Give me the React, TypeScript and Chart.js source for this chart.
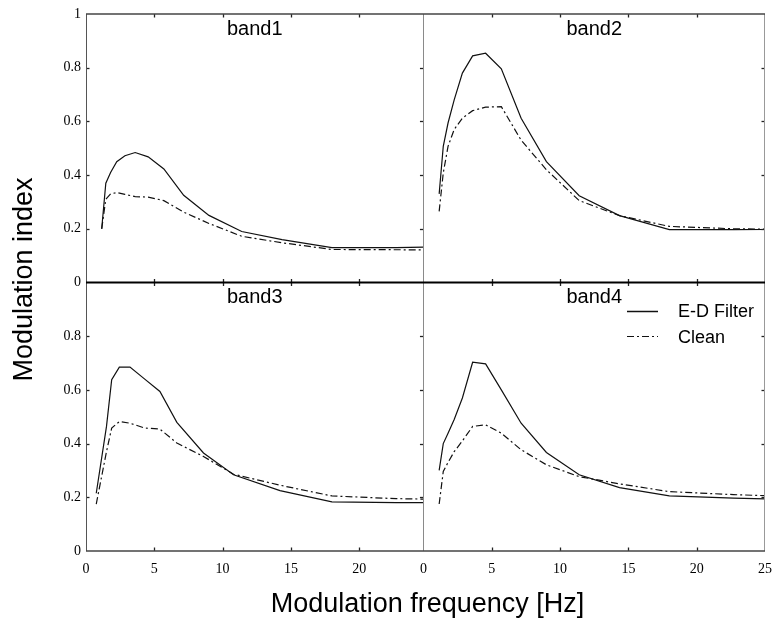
import React, { useEffect, useRef } from 'react';
import { Chart, registerables } from 'chart.js';

Chart.register(...registerables);

// Modulation frequencies (Hz) sampled in each band
const freqBands124 = [1.15, 1.45, 1.8, 2.25, 2.85, 3.6, 4.55, 5.7, 7.15, 9.0, 11.4, 14.35, 18.0, 22.7, 28.5];
const freqBand3 = [0.75, 1.5, 1.88, 2.44, 3.22, 4.3, 5.41, 6.65, 8.6, 10.8, 14.2, 18.0, 22.7, 28.5];

// Modulation index values
const band1ED = [0.2, 0.37, 0.41, 0.45, 0.472, 0.484, 0.468, 0.423, 0.325, 0.25, 0.19, 0.16, 0.13, 0.13, 0.135];
const band1Clean = [0.2, 0.31, 0.33, 0.335, 0.328, 0.32, 0.318, 0.305, 0.262, 0.22, 0.172, 0.148, 0.123, 0.122, 0.12];
const band2ED = [0.33, 0.507, 0.594, 0.68, 0.78, 0.844, 0.854, 0.796, 0.612, 0.45, 0.323, 0.249, 0.197, 0.197, 0.198];
const band2Clean = [0.265, 0.408, 0.507, 0.57, 0.612, 0.64, 0.653, 0.655, 0.53, 0.42, 0.305, 0.249, 0.209, 0.2, 0.197];
const band3ED = [0.215, 0.464, 0.638, 0.685, 0.685, 0.64, 0.594, 0.479, 0.365, 0.284, 0.225, 0.183, 0.18, 0.18];
const band3Clean = [0.175, 0.37, 0.458, 0.482, 0.476, 0.458, 0.454, 0.402, 0.352, 0.286, 0.245, 0.205, 0.195, 0.19];
const band4ED = [0.3, 0.4, 0.439, 0.49, 0.57, 0.703, 0.697, 0.6, 0.476, 0.367, 0.284, 0.236, 0.205, 0.197, 0.19];
const band4Clean = [0.175, 0.296, 0.33, 0.37, 0.41, 0.464, 0.47, 0.439, 0.377, 0.321, 0.277, 0.25, 0.221, 0.21, 0.2];

const xTickValues = [0, 5, 10, 15, 20, 25];
const yTickValues = [0, 0.2, 0.4, 0.6, 0.8, 1];
const panelTitles = ['band1', 'band2', 'band3', 'band4'];
const seriesLabels = ['E-D Filter', 'Clean'];
const yTitle = 'Modulation index';
const xTitle = 'Modulation frequency [Hz]';

const DASH_DOT = [7, 3, 2, 3];
const SANS = '"Liberation Sans", Arial, sans-serif';
const SERIF = '"Liberation Serif", "Times New Roman", serif';

function toPoints(xs: number[], ys: number[]) {
  return ys.map((y, i) => ({ x: xs[i], y }));
}

function makeSet(label: string, xs: number[], ys: number[], xAxisID: string, yAxisID: string, dashed: boolean) {
  return {
    label,
    data: toPoints(xs, ys),
    xAxisID,
    yAxisID,
    borderColor: '#111',
    backgroundColor: '#111',
    borderWidth: 1.2,
    borderDash: dashed ? DASH_DOT : [],
    pointRadius: 0,
    tension: 0,
    fill: false,
  };
}

const panelPlugin = {
  id: 'panelFrame',
  afterDraw(chart: any) {
    const ctx: CanvasRenderingContext2D = chart.ctx;
    const { xL, xR, yT, yB } = chart.scales;
    const L = xL.left;
    const M = xR.left;
    const R = xR.right;
    const T = yT.top;
    const Mid = yT.bottom;
    const B = yB.bottom;
    const line = (x1: number, y1: number, x2: number, y2: number) => {
      ctx.beginPath();
      ctx.moveTo(x1, y1);
      ctx.lineTo(x2, y2);
      ctx.stroke();
    };
    ctx.save();
    ctx.setLineDash([]);
    // inward tick marks
    const tk = 3.5;
    ctx.strokeStyle = '#222';
    ctx.lineWidth = 1.3;
    for (const xs of [xL, xR]) {
      for (const v of xTickValues) {
        if (v <= 0 || v >= xs.max) continue;
        const px = Math.round(xs.getPixelForValue(v)) + 0.5;
        line(px, T, px, T + tk);
        line(px, Mid - tk, px, Mid + tk);
        line(px, B - tk, px, B);
      }
    }
    for (const ys of [yT, yB]) {
      for (const v of yTickValues) {
        if (v <= 0 || v >= 1) continue;
        const py = Math.round(ys.getPixelForValue(v)) + 0.5;
        line(L, py, L + tk, py);
        line(M - tk, py, M, py);
        line(R - tk, py, R, py);
      }
    }
    // frame lines
    ctx.lineWidth = 1;
    ctx.strokeStyle = '#555';
    line(Math.round(L) + 0.5, T, Math.round(L) + 0.5, B);
    ctx.strokeStyle = '#8a8a8a';
    line(Math.round(M) + 0.5, T, Math.round(M) + 0.5, B);
    ctx.strokeStyle = '#999';
    line(Math.round(R) - 0.5, T, Math.round(R) - 0.5, B);
    ctx.strokeStyle = '#444';
    ctx.lineWidth = 1.5;
    line(L, T, R, T);
    line(L, B, R, B);
    ctx.strokeStyle = '#000';
    ctx.lineWidth = 2.2;
    line(L, Mid, R, Mid);

    // panel titles
    ctx.fillStyle = '#000';
    ctx.font = `20px ${SANS}`;
    ctx.textAlign = 'center';
    ctx.textBaseline = 'alphabetic';
    ctx.fillText(panelTitles[0], (L + M) / 2, T + 21);
    ctx.fillText(panelTitles[1], (M + R) / 2, T + 21);
    ctx.fillText(panelTitles[2], (L + M) / 2, Mid + 20);
    ctx.fillText(panelTitles[3], (M + R) / 2, Mid + 20);

    // legend in band4 panel
    const lx1 = R - 138;
    const lx2 = R - 107;
    const tx = R - 87;
    const ly = [Mid + 29, Mid + 54];
    ctx.strokeStyle = '#111';
    ctx.lineWidth = 1.5;
    ctx.setLineDash([]);
    line(lx1, ly[0], lx2, ly[0]);
    ctx.lineWidth = 1.2;
    ctx.setLineDash(DASH_DOT);
    line(lx1, ly[1], lx2, ly[1]);
    ctx.setLineDash([]);
    ctx.font = `18px ${SANS}`;
    ctx.textAlign = 'left';
    ctx.fillText(seriesLabels[0], tx, ly[0] + 5.5);
    ctx.fillText(seriesLabels[1], tx, ly[1] + 6.5);

    // axis titles
    ctx.font = `27px ${SANS}`;
    ctx.textAlign = 'center';
    ctx.fillText(xTitle, (L + R) / 2 + 2, B + 61);
    ctx.save();
    ctx.translate(32, (T + B) / 2 - 3);
    ctx.rotate(-Math.PI / 2);
    ctx.fillText(yTitle, 0, 0);
    ctx.restore();
    ctx.restore();
  },
};

function xScale(max: number, weight: number) {
  return {
    type: 'linear',
    position: 'bottom',
    stack: 'xpanels',
    stackWeight: max,
    weight,
    min: 0,
    max,
    grid: { display: false, drawTicks: false },
    border: { display: false },
    ticks: {
      stepSize: 5,
      includeBounds: false,
      autoSkip: false,
      maxRotation: 0,
      padding: 10,
      color: '#000',
      font: { family: SERIF, size: 14 },
    },
    afterFit: (s: any) => {
      s.height = 40;
      s.paddingLeft = 0;
      s.paddingRight = 0;
    },
  };
}

function yScale(weight: number, hideTop: boolean) {
  return {
    type: 'linear',
    position: 'left',
    stack: 'ypanels',
    stackWeight: 1,
    weight,
    min: 0,
    max: 1,
    grid: { display: false, drawTicks: false },
    border: { display: false },
    ticks: {
      stepSize: 0.2,
      autoSkip: false,
      padding: 5,
      color: '#000',
      font: { family: SERIF, size: 14 },
      callback: (v: number) => {
        if (hideTop && v >= 0.999) return '';
        if (Math.abs(v) < 1e-9) return '0';
        if (Math.abs(v - 1) < 1e-9) return '1';
        return v.toFixed(1);
      },
    },
    afterFit: (s: any) => {
      s.width = 50;
      s.paddingTop = 0;
      s.paddingBottom = 0;
    },
  };
}

export default function App() {
  const canvasRef = useRef<HTMLCanvasElement | null>(null);

  useEffect(() => {
    if (!canvasRef.current) return;
    const chart = new Chart(canvasRef.current, {
      type: 'line',
      data: {
        datasets: [
          makeSet(seriesLabels[0], freqBands124, band1ED, 'xL', 'yT', false),
          makeSet(seriesLabels[1], freqBands124, band1Clean, 'xL', 'yT', true),
          makeSet(seriesLabels[0], freqBands124, band2ED, 'xR', 'yT', false),
          makeSet(seriesLabels[1], freqBands124, band2Clean, 'xR', 'yT', true),
          makeSet(seriesLabels[0], freqBand3, band3ED, 'xL', 'yB', false),
          makeSet(seriesLabels[1], freqBand3, band3Clean, 'xL', 'yB', true),
          makeSet(seriesLabels[0], freqBands124, band4ED, 'xR', 'yB', false),
          makeSet(seriesLabels[1], freqBands124, band4Clean, 'xR', 'yB', true),
        ] as any,
      },
      options: {
        responsive: false,
        animation: false,
        devicePixelRatio: 1,
        layout: { padding: { left: 36, top: 14, right: 8, bottom: 34 } },
        plugins: {
          legend: { display: false },
          tooltip: { enabled: false },
          title: { display: false },
        },
        scales: {
          xL: xScale(24.7, 0),
          xR: xScale(25, 1),
          yT: yScale(1, false),
          yB: yScale(0, true),
        } as any,
      },
      plugins: [panelPlugin],
    });
    return () => chart.destroy();
  }, []);

  return (
    <div style={{ position: 'absolute', left: 0, top: 0, width: 773, height: 625, background: '#fff' }}>
      <canvas ref={canvasRef} width={773} height={625} style={{ width: 773, height: 625, display: 'block' }} />
    </div>
  );
}
